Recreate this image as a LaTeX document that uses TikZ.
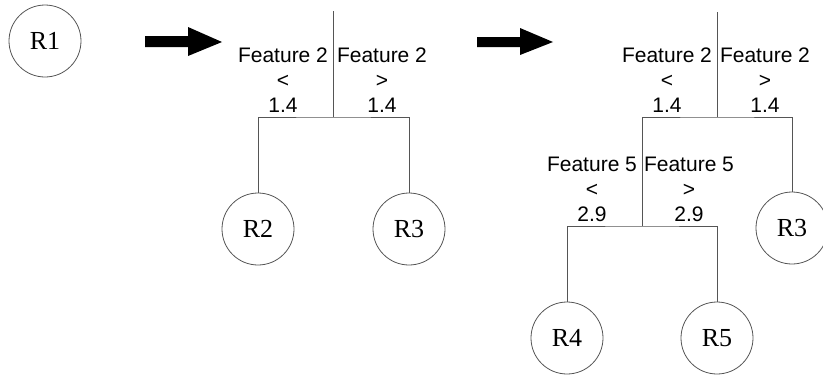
\documentclass[tikz,border=0pt]{standalone}
\usepackage{fontspec}
\setmainfont{Liberation Serif}
\newfontfamily\lblfont{Liberation Sans}
\begin{document}
\begin{tikzpicture}[x=1pt,y=-1pt,
  region/.style={circle,draw=linegray,line width=0.8pt,minimum size=72pt,inner sep=0pt,
    font=\fontsize{26}{30}\selectfont},
  branch/.style={draw=linegray,line width=0.9pt},
  cond/.style={align=center,inner sep=0pt,anchor=north,
    font=\lblfont\fontsize{21}{25}\selectfont},
  bigarrow/.style={fill=black,draw=none}]
\definecolor{linegray}{RGB}{85,85,85}
\useasboundingbox (0,0) rectangle (823,375);
\clip (0,0) rectangle (823,375);
% stage 1
\node[region] (R1) at (45,41) {R1};
\fill[bigarrow] (145,36) -- (188,36) -- (188,27) -- (222,42) -- (188,56) -- (188,47) -- (145,47) -- cycle;
% stage 2
\coordinate (t1top) at (333,11);
\coordinate (t1j) at (333,117);
\node[region] (R2) at (258,229) {R2};
\node[region] (R3a) at (409,229) {R3};
\draw[branch] (t1top) -- (t1j);
\draw[branch] (R2.north) |- (t1j) -| (R3a.north);
\node[cond] (c1l) at (283,48) {Feature 2\\<\\1.4};
\node[cond] (c1r) at (382,48) {Feature 2\\>\\1.4};
\fill[bigarrow] (477,37) -- (520,37) -- (520,28) -- (553,42) -- (520,55) -- (520,47) -- (477,47) -- cycle;
% stage 3
\coordinate (t2top) at (717,12);
\coordinate (t2j) at (717,117);
\coordinate (t2k) at (642,226);
\node[region] (R3b) at (792,228) {R3};
\node[region] (R4) at (567,338) {R4};
\node[region] (R5) at (717,338) {R5};
\draw[branch] (t2top) -- (t2j);
\draw[branch] (t2k) |- (t2j) -| (R3b.north);
\draw[branch] (R4.north) |- (t2k) -| (R5.north);
\node[cond] (c2l) at (667,48) {Feature 2\\<\\1.4};
\node[cond] (c2r) at (765,48) {Feature 2\\>\\1.4};
\node[cond] (c3l) at (592,157) {Feature 5\\<\\2.9};
\node[cond] (c3r) at (689,157) {Feature 5\\>\\2.9};
\end{tikzpicture}
\end{document}
